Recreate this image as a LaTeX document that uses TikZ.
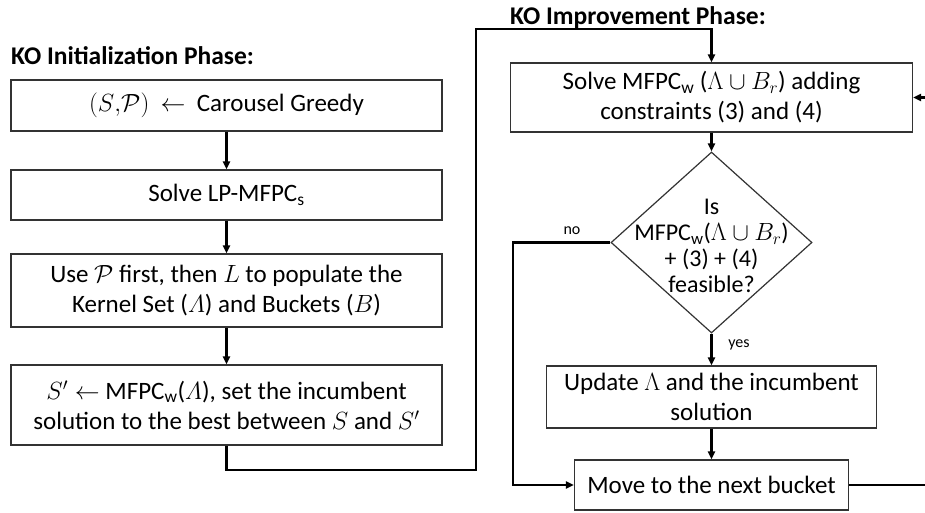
\documentclass[tikz,border=0pt]{standalone}
\usepackage{amsmath}
\usepackage{fontspec}
\setmainfont{Carlito}
\usetikzlibrary{arrows.meta,shapes.geometric}
\begin{document}
\begin{tikzpicture}[x=1pt,y=-1pt,
  box/.style={draw=black!80, line width=1.2pt, fill=white, inner sep=0pt, align=center,
              font=\fontsize{25}{30}\selectfont},
  conn/.style={line width=2.2pt, black},
  arr/.style={conn, -{Triangle[length=8pt,width=7pt]}},
  ttl/.style={font=\bfseries\fontsize{25.5}{28}\selectfont, anchor=west, inner sep=0pt},
  lbl/.style={font=\fontsize{16}{18}\selectfont, inner sep=0pt}]
\useasboundingbox (0,0) rectangle (925,513);

% titles
\node[ttl] (t1) at (11,56) {KO Initialization Phase:};
\node[ttl] (t2) at (510,18) {KO Improvement Phase:};

% left column
\node[box, minimum width=431pt, minimum height=51pt] (b1) at (226.5,105.5)
  {$(S{,}\mathcal{P})$ \ $\leftarrow$ \ Carousel Greedy};
\node[box, minimum width=431pt, minimum height=50pt] (b2) at (226.5,195)
  {Solve LP-MFPC\textsubscript{s}};
\node[box, minimum width=431pt, minimum height=73pt] (b3) at (226.5,290.5)
  {Use $\mathcal{P}$ first, then $L$ to populate the\\Kernel Set ($\varLambda$) and Buckets ($B$)};
\node[box, minimum width=431pt, minimum height=80pt] (b4) at (226.5,405)
  {$S'\leftarrow$ MFPC\textsubscript{w}($\varLambda$), set the incumbent\\solution to the best between $S$ and $S'$};

% right column
\node[box, minimum width=402pt, minimum height=69pt] (b5) at (711.5,97.5)
  {Solve MFPC\textsubscript{w} ($\Lambda\cup B_r$) adding\\constraints (3) and (4)};
\node[diamond, draw=black!80, line width=1.2pt, fill=white, inner sep=0pt,
      minimum width=201pt, minimum height=181pt] (dia) at (711.5,242.5) {};
\node[align=center, inner sep=0pt, font=\fontsize{24}{26}\selectfont] (diat) at (711.5,246)
  {Is\\MFPC\textsubscript{w}($\Lambda\cup B_r$)\\+ (3) + (4)\\feasible?};
\node[box, minimum width=330pt, minimum height=62pt] (upd) at (711.5,397)
  {Update $\Lambda$ and the incumbent\\solution};
\node[box, minimum width=274pt, minimum height=50pt] (mov) at (711.5,485)
  {Move to the next bucket};

% helper coordinates
\coordinate (c1) at (226.5,470);
\coordinate (c2) at (476,470);
\coordinate (c3) at (476,29);
\coordinate (c4) at (711.5,29);
\coordinate (nc) at (513,242.5);
\coordinate (r1) at (945,485);
\coordinate (r2) at (945,97.5);

% connectors
\draw[arr] (b1) -- (b2);
\draw[arr] (b2) -- (b3);
\draw[arr] (b3) -- (b4);
\draw[arr] (b4.south) -- (c1) -- (c2) -- (c3) -- (c4) -- (b5.north);
\draw[arr] (b5) -- (dia.north);
\draw[arr] (dia.south) -- (upd.north);
\draw[arr] (upd) -- (mov);
\draw[arr] (dia.west) -- (nc) |- (mov.west);
\draw[arr] (mov.east) -- (r1) -- (r2) -- (b5.east);

% labels
\node[lbl] (no) at (572,231) {no};
\node[lbl] (yes) at (739,345) {yes};
\end{tikzpicture}
\end{document}
